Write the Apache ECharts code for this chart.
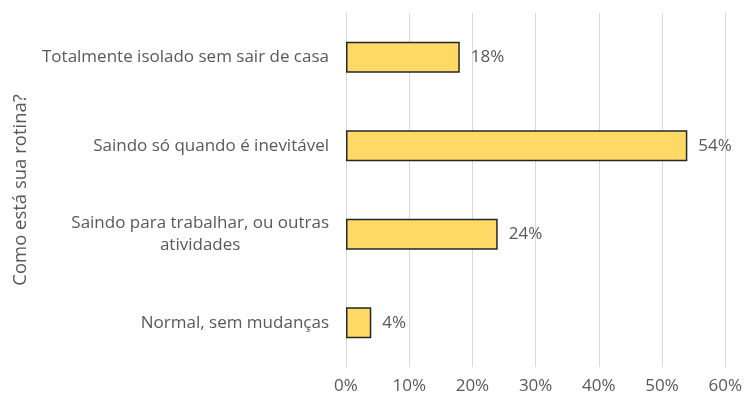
<!DOCTYPE html>
<html>
<head>
<meta charset="utf-8">
<script src="https://cdn.jsdelivr.net/npm/echarts@6/dist/echarts.min.js"></script>
<style>
    html, body { margin: 0; padding: 0; background: #fff; }
    #chart { width: 745px; height: 401px; }
</style>
</head>
<body>
<div id="chart"></div>
<script>
var categories = ['Normal, sem mudanças', 'Saindo para trabalhar, ou outras\natividades', 'Saindo só quando é inevitável', 'Totalmente isolado sem sair de casa'];
var values = [4, 24, 54, 18];
var xTicks = [0, 10, 20, 30, 40, 50, 60];
var axisTitle = 'Como está sua rotina?';

var font = 'Open Sans';
var myChart = echarts.init(document.getElementById('chart'));
var option = {
    animation: false,
    grid: {
        left: 346,
        right: 19,
        top: 13,
        bottom: 34
    },
    xAxis: {
        type: 'value',
        min: xTicks[0],
        max: xTicks[xTicks.length - 1],
        interval: 10,
        axisLine: { show: false },
        axisTick: { show: false },
        axisLabel: {
            formatter: '{value}%',
            color: '#595959',
            fontFamily: font,
            fontSize: 17,
            margin: 11
        },
        splitLine: { lineStyle: { color: '#d9d9d9', width: 1 } }
    },
    yAxis: {
        type: 'category',
        data: categories,
        name: axisTitle,
        nameLocation: 'middle',
        nameGap: 316,
        nameRotate: 90,
        nameTextStyle: {
            color: '#595959',
            fontFamily: font,
            fontSize: 18.5
        },
        axisLine: { show: false },
        axisTick: { show: false },
        axisLabel: {
            color: '#595959',
            fontFamily: font,
            fontSize: 17,
            margin: 17,
            lineHeight: 22,
            formatter: function (v) {
                return v.split('\n').map(function (s) { return '{c|' + s + '}'; }).join('\n');
            },
            rich: {
                c: { align: 'center', color: '#595959', fontFamily: font, fontSize: 17, lineHeight: 22 }
            }
        }
    },
    series: [{
        type: 'bar',
        data: values,
        barWidth: 31,
        itemStyle: {
            color: '#ffd966',
            borderColor: '#262626',
            borderWidth: 1.5
        },
        label: {
            show: true,
            position: 'right',
            distance: 11,
            formatter: '{c}%',
            color: '#595959',
            fontFamily: font,
            fontSize: 17
        }
    }]
};
myChart.setOption(option);
</script>
</body>
</html>
